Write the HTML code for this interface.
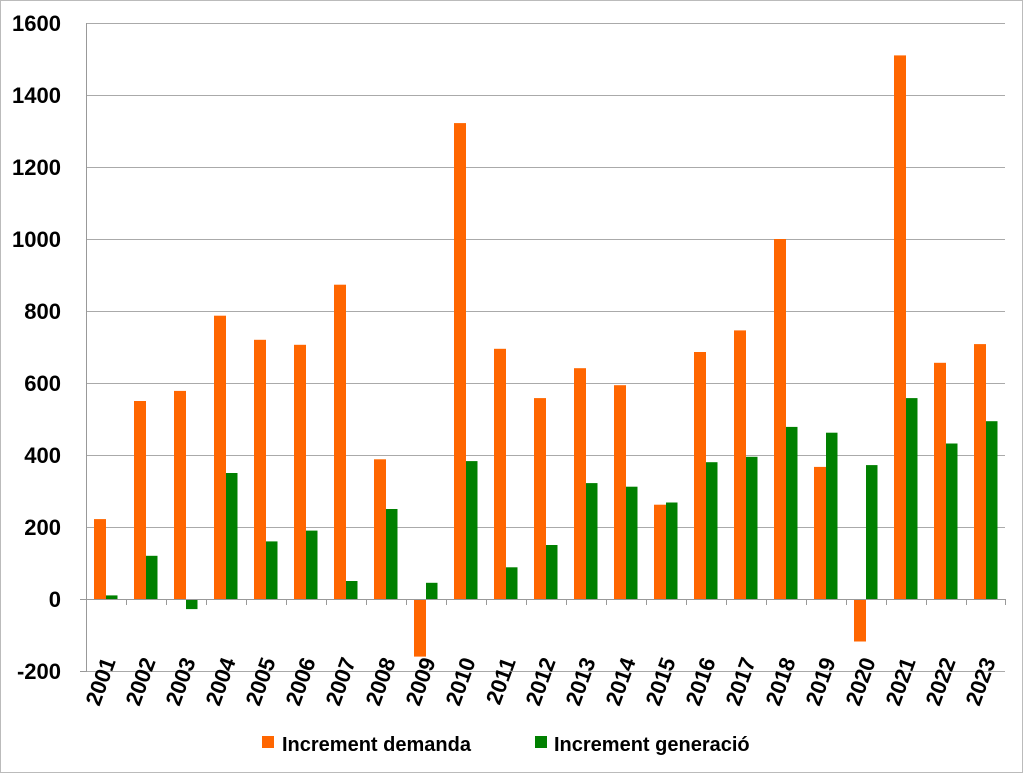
<!DOCTYPE html>
<html><head><meta charset="utf-8"><style>body{margin:0;background:#fff}svg{display:block}text{font-family:"Liberation Sans",sans-serif;font-weight:bold;fill:#000}</style></head><body>
<svg width="1024" height="774" viewBox="0 0 1024 774" xmlns="http://www.w3.org/2000/svg">
<rect x="0.5" y="0.5" width="1022" height="772" fill="#fff" stroke="#bbb"/>
<g stroke="#aaa" stroke-width="1">
<line x1="86" y1="23.5" x2="1005" y2="23.5"/><line x1="86" y1="95.5" x2="1005" y2="95.5"/><line x1="86" y1="167.5" x2="1005" y2="167.5"/><line x1="86" y1="239.5" x2="1005" y2="239.5"/><line x1="86" y1="311.5" x2="1005" y2="311.5"/><line x1="86" y1="383.5" x2="1005" y2="383.5"/><line x1="86" y1="455.5" x2="1005" y2="455.5"/><line x1="86" y1="527.5" x2="1005" y2="527.5"/><line x1="86" y1="671.5" x2="1005" y2="671.5"/>
</g>
<g font-size="22" text-anchor="end">
<text x="61" y="31">1600</text><text x="61" y="103">1400</text><text x="61" y="175">1200</text><text x="61" y="247">1000</text><text x="61" y="319">800</text><text x="61" y="391">600</text><text x="61" y="463">400</text><text x="61" y="535">200</text><text x="61" y="607">0</text><text x="61" y="679">-200</text>
</g>
<g fill="#ff6600">
<rect x="94" y="519.1" width="12" height="79.9"/><rect x="134" y="401" width="12" height="198"/><rect x="174" y="390.9" width="12" height="208.1"/><rect x="214" y="315.7" width="12" height="283.3"/><rect x="254" y="339.8" width="12" height="259.2"/><rect x="294" y="344.8" width="12" height="254.2"/><rect x="334" y="284.7" width="12" height="314.3"/><rect x="374" y="459.3" width="12" height="139.7"/><rect x="414" y="599" width="12" height="57.6"/><rect x="454" y="123.1" width="12" height="475.9"/><rect x="494" y="348.8" width="12" height="250.2"/><rect x="534" y="398.1" width="12" height="200.9"/><rect x="574" y="368.2" width="12" height="230.8"/><rect x="614" y="385.2" width="12" height="213.8"/><rect x="654" y="504.7" width="12" height="94.3"/><rect x="694" y="352" width="12" height="247"/><rect x="734" y="330.4" width="12" height="268.6"/><rect x="774" y="239" width="12" height="360"/><rect x="814" y="466.9" width="12" height="132.1"/><rect x="854" y="599" width="12" height="42.5"/><rect x="894" y="55.4" width="12" height="543.6"/><rect x="934" y="362.8" width="12" height="236.2"/><rect x="974" y="344.1" width="12" height="254.9"/>
</g>
<g fill="#008000">
<rect x="106" y="595.4" width="11.5" height="3.6"/><rect x="146" y="555.8" width="11.5" height="43.2"/><rect x="186" y="599" width="11.5" height="10.1"/><rect x="226" y="473" width="11.5" height="126"/><rect x="266" y="541.4" width="11.5" height="57.6"/><rect x="306" y="530.6" width="11.5" height="68.4"/><rect x="346" y="581" width="11.5" height="18"/><rect x="386" y="509" width="11.5" height="90"/><rect x="426" y="582.8" width="11.5" height="16.2"/><rect x="466" y="461.1" width="11.5" height="137.9"/><rect x="506" y="567.3" width="11.5" height="31.7"/><rect x="546" y="545" width="11.5" height="54"/><rect x="586" y="483.1" width="11.5" height="115.9"/><rect x="626" y="486.7" width="11.5" height="112.3"/><rect x="666" y="502.5" width="11.5" height="96.5"/><rect x="706" y="462.2" width="11.5" height="136.8"/><rect x="746" y="456.8" width="11.5" height="142.2"/><rect x="786" y="426.9" width="11.5" height="172.1"/><rect x="826" y="432.7" width="11.5" height="166.3"/><rect x="866" y="465.1" width="11.5" height="133.9"/><rect x="906" y="398.1" width="11.5" height="200.9"/><rect x="946" y="443.5" width="11.5" height="155.5"/><rect x="986" y="421.2" width="11.5" height="177.8"/>
</g>
<g stroke="#999" stroke-width="1">
<line x1="86.5" y1="23" x2="86.5" y2="672"/><line x1="80" y1="599.5" x2="1005" y2="599.5"/><line x1="80" y1="671.5" x2="86" y2="671.5"/>
<line x1="126.5" y1="599" x2="126.5" y2="605"/><line x1="166.5" y1="599" x2="166.5" y2="605"/><line x1="206.5" y1="599" x2="206.5" y2="605"/><line x1="246.5" y1="599" x2="246.5" y2="605"/><line x1="286.5" y1="599" x2="286.5" y2="605"/><line x1="326.5" y1="599" x2="326.5" y2="605"/><line x1="366.5" y1="599" x2="366.5" y2="605"/><line x1="406.5" y1="599" x2="406.5" y2="605"/><line x1="446.5" y1="599" x2="446.5" y2="605"/><line x1="486.5" y1="599" x2="486.5" y2="605"/><line x1="526.5" y1="599" x2="526.5" y2="605"/><line x1="566.5" y1="599" x2="566.5" y2="605"/><line x1="606.5" y1="599" x2="606.5" y2="605"/><line x1="646.5" y1="599" x2="646.5" y2="605"/><line x1="686.5" y1="599" x2="686.5" y2="605"/><line x1="726.5" y1="599" x2="726.5" y2="605"/><line x1="766.5" y1="599" x2="766.5" y2="605"/><line x1="806.5" y1="599" x2="806.5" y2="605"/><line x1="846.5" y1="599" x2="846.5" y2="605"/><line x1="886.5" y1="599" x2="886.5" y2="605"/><line x1="926.5" y1="599" x2="926.5" y2="605"/><line x1="966.5" y1="599" x2="966.5" y2="605"/><line x1="1005.5" y1="599" x2="1005.5" y2="605"/>
</g>
<g font-size="22" text-anchor="end">
<text transform="translate(116,661) rotate(-70)">2001</text><text transform="translate(156,661) rotate(-70)">2002</text><text transform="translate(196,661) rotate(-70)">2003</text><text transform="translate(236,661) rotate(-70)">2004</text><text transform="translate(276,661) rotate(-70)">2005</text><text transform="translate(316,661) rotate(-70)">2006</text><text transform="translate(356,661) rotate(-70)">2007</text><text transform="translate(396,661) rotate(-70)">2008</text><text transform="translate(436,661) rotate(-70)">2009</text><text transform="translate(476,661) rotate(-70)">2010</text><text transform="translate(516,661) rotate(-70)">2011</text><text transform="translate(556,661) rotate(-70)">2012</text><text transform="translate(596,661) rotate(-70)">2013</text><text transform="translate(636,661) rotate(-70)">2014</text><text transform="translate(676,661) rotate(-70)">2015</text><text transform="translate(716,661) rotate(-70)">2016</text><text transform="translate(756,661) rotate(-70)">2017</text><text transform="translate(796,661) rotate(-70)">2018</text><text transform="translate(836,661) rotate(-70)">2019</text><text transform="translate(876,661) rotate(-70)">2020</text><text transform="translate(916,661) rotate(-70)">2021</text><text transform="translate(956,661) rotate(-70)">2022</text><text transform="translate(996,661) rotate(-70)">2023</text>
</g>
<rect x="262" y="736" width="12" height="12" fill="#ff6600"/>
<text x="282" y="751" font-size="20">Increment demanda</text>
<rect x="535" y="736" width="12" height="12" fill="#008000"/>
<text x="554" y="751" font-size="20">Increment generació</text>
</svg>
</body></html>
